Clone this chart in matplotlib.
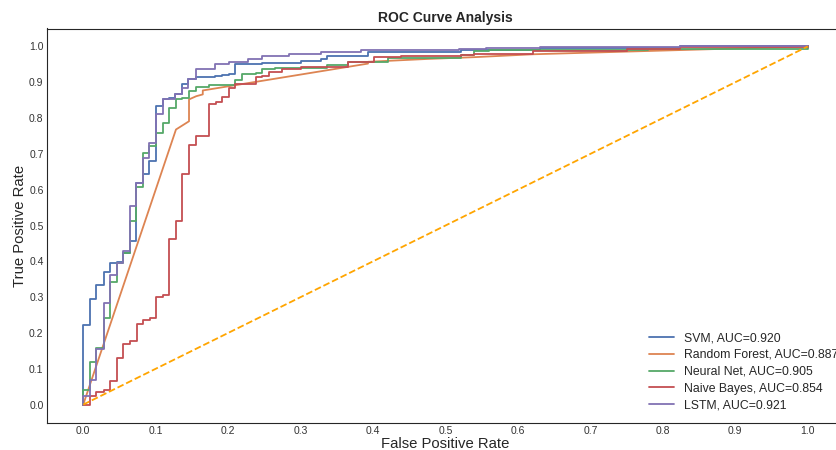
import matplotlib
matplotlib.use("Agg")
import matplotlib.pyplot as plt
import numpy as np
import seaborn as sns

# ROC points (corner points, step curves)
svm_fpr = [0, 0, 0.009, 0.018, 0.028, 0.037, 0.046, 0.055, 0.064, 0.073, 0.082, 0.091,
           0.100, 0.110, 0.118, 0.127, 0.136, 0.145, 0.155, 0.182, 0.192, 0.201, 0.210,
           0.247, 0.300, 0.328, 0.337, 0.393, 0.522, 0.630, 0.823, 1.0]
svm_tpr = [0, 0.223, 0.295, 0.334, 0.370, 0.396, 0.399, 0.424, 0.456, 0.619, 0.645, 0.680,
           0.835, 0.852, 0.857, 0.866, 0.896, 0.908, 0.915, 0.917, 0.920, 0.924, 0.950,
           0.955, 0.959, 0.964, 0.973, 0.985, 0.990, 0.996, 1.0, 1.0]

nn_fpr = [0, 0, 0.009, 0.018, 0.028, 0.037, 0.046, 0.055, 0.064, 0.073, 0.082, 0.091,
          0.100, 0.110, 0.119, 0.128, 0.137, 0.146, 0.156, 0.174, 0.210, 0.219, 0.238,
          0.247, 0.265, 0.337, 0.365, 0.420, 0.522, 0.540, 0.560, 0.780, 1.0]
nn_tpr = [0, 0.040, 0.118, 0.157, 0.242, 0.343, 0.396, 0.424, 0.512, 0.608, 0.703, 0.723,
          0.759, 0.785, 0.828, 0.852, 0.855, 0.875, 0.887, 0.891, 0.905, 0.924, 0.927,
          0.936, 0.940, 0.948, 0.957, 0.968, 0.976, 0.987, 0.990, 0.994, 1.0]

nb_fpr = [0, 0.009, 0.018, 0.028, 0.037, 0.046, 0.055, 0.065, 0.074, 0.083, 0.092, 0.101,
          0.110, 0.119, 0.128, 0.137, 0.146, 0.156, 0.174, 0.183, 0.192, 0.201, 0.210,
          0.238, 0.247, 0.256, 0.274, 0.300, 0.365, 0.402, 0.439, 0.522, 0.540, 0.621,
          0.750, 0.823, 1.0]
nb_tpr = [0, 0.023, 0.034, 0.040, 0.067, 0.130, 0.170, 0.177, 0.226, 0.237, 0.242, 0.301,
          0.307, 0.461, 0.512, 0.645, 0.726, 0.751, 0.838, 0.844, 0.859, 0.885, 0.894,
          0.914, 0.917, 0.929, 0.938, 0.942, 0.957, 0.970, 0.973, 0.976, 0.980, 0.987,
          0.992, 0.998, 1.0]

lstm_fpr = [0, 0, 0.009, 0.018, 0.028, 0.037, 0.046, 0.055, 0.064, 0.073, 0.082, 0.091,
            0.100, 0.110, 0.119, 0.127, 0.136, 0.145, 0.155, 0.182, 0.201, 0.228, 0.247,
            0.284, 0.328, 0.384, 0.519, 0.556, 0.630, 0.823, 1.0]
lstm_tpr = [0, 0.023, 0.068, 0.156, 0.284, 0.363, 0.396, 0.428, 0.554, 0.619, 0.689, 0.729,
            0.810, 0.852, 0.854, 0.866, 0.885, 0.908, 0.936, 0.952, 0.957, 0.966, 0.973,
            0.980, 0.985, 0.989, 0.992, 0.996, 0.998, 1.0, 1.0]

# random forest has few thresholds -> straight segments
rf_fpr = [0, 0.128, 0.146, 0.146, 0.156, 0.165, 0.165, 0.393, 0.393, 0.475, 0.540, 0.620, 1.0]
rf_tpr = [0, 0.768, 0.791, 0.852, 0.861, 0.866, 0.877, 0.952, 0.957, 0.965, 0.970, 0.978, 1.0]

models = ["SVM", "Random Forest", "Neural Net", "Naive Bayes", "LSTM"]
aucs = [0.920, 0.887, 0.905, 0.854, 0.921]

sns.set_style("white")
plt.rcParams['font.family'] = ['Liberation Sans', 'DejaVu Sans']
colors = sns.color_palette("deep")

fig = plt.figure(figsize=(8.37, 4.5), dpi=100)
ax = fig.add_axes([47 / 837, 1 - 422.5 / 450, (844 - 47) / 837, (422.5 - 28.5) / 450])

curves = [(svm_fpr, svm_tpr, True), (rf_fpr, rf_tpr, False), (nn_fpr, nn_tpr, True),
          (nb_fpr, nb_tpr, True), (lstm_fpr, lstm_tpr, True)]
for i, (fpr, tpr, step) in enumerate(curves):
    ax.plot(fpr, tpr, color=colors[i], lw=1.3,
            drawstyle="steps-post" if step else "default",
            label="%s, AUC=%.3f" % (models[i], aucs[i]))

ax.plot([0, 1], [0, 1], color="orange", ls="--", lw=1.3)

ax.set_xticks(np.arange(0, 1.01, 0.1))
ax.set_yticks(np.arange(0, 1.01, 0.1))
ax.tick_params(labelsize=7.5, length=0, colors="#333333", pad=2.5)
ax.set_xlabel("False Positive Rate", fontsize=10.7, labelpad=0.5)
ax.set_ylabel("True Positive Rate", fontsize=10.7, labelpad=1.5)
ax.set_title("ROC Curve Analysis", fontsize=10, fontweight="bold", pad=4.5)
ax.legend(loc="lower right", frameon=False, fontsize=8.8, labelspacing=0.4,
          borderaxespad=0.1, bbox_to_anchor=(1.0, 0.012))

fig.savefig("out.png", dpi=100)
